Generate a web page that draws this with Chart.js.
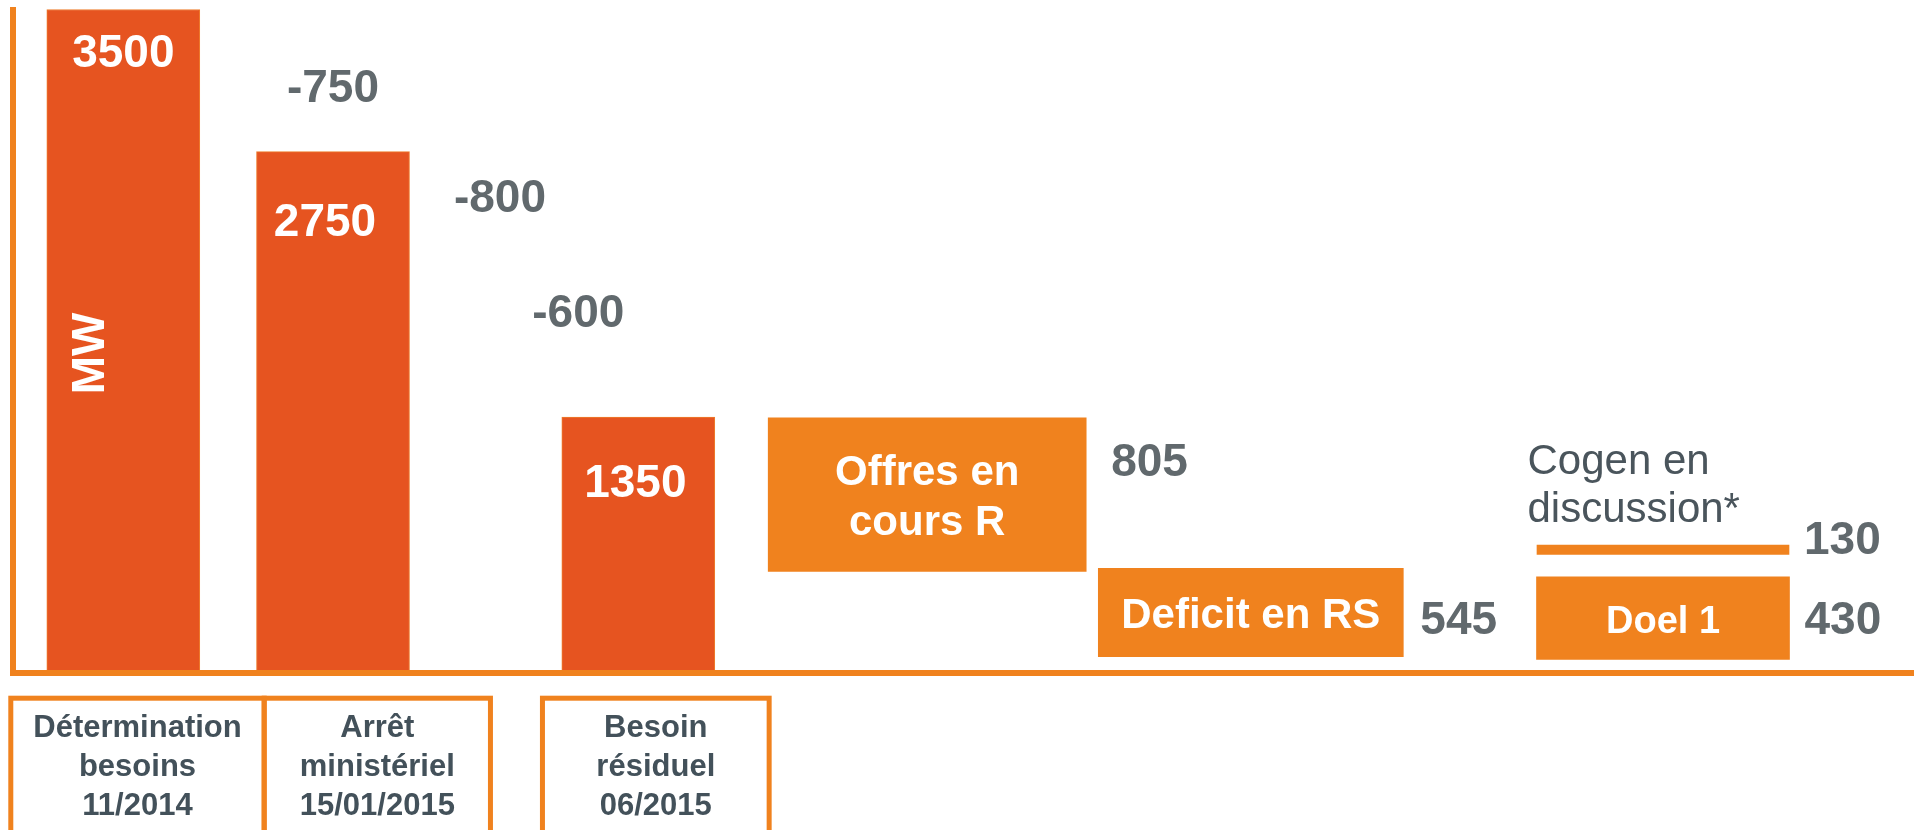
<!DOCTYPE html>
<html>
<head>
<meta charset="utf-8">
<script src="https://cdn.jsdelivr.net/npm/chart.js@4.4.1/dist/chart.umd.min.js"></script>
<style>
  html, body { margin: 0; padding: 0; background: #fff; }
  #cadre { width: 1921px; height: 830px; position: relative; }
</style>
</head>
<body>
<div id="cadre"><canvas id="besoins"></canvas></div>
<script>
// Donnees (MW)
const categories = [['Détermination', 'besoins', '11/2014'], ['Arrêt', 'ministériel', '15/01/2015'], ['Besoin', 'résiduel', '06/2015']];
const totals = [3500, 2750, 1350];
const changes = [-750, -800, -600];
const boxNames = [['Offres en', 'cours R'], ['Deficit en RS'], ['Doel 1'], []];
const boxValues = [805, 545, 430, 130];
const boxLow = [535, 85, 71, 625];
const boxHigh = [1345, 551, 507, 674];
const cogenNote = ['Cogen en', 'discussion*'];
const unit = 'MW';

// Styles
const orange = '#F0821E';
const orangeFonce = '#E65420';
const gris = '#61696D';
const ardoise = '#43515A';
const police = '"Liberation Sans", Arial, sans-serif';

// largeur de chaque colonne (une echelle x par colonne, empilees)
const colonnes = [220.6, 198.8, 411.8, 166, 481.2, 343.2, 78.4];
const colBoites = ['x4', 'x5', 'x6', 'x6'];
const largeurBoites = [318, 305, 253, 252];

//Datasets
const datasets = [];
totals.forEach(function (v, i) {
  datasets.push({
    label: categories[i].join(' '),
    xAxisID: 'x' + (i + 1),
    data: [v],
    backgroundColor: orangeFonce,
    borderColor: '#EE7C2C',
    borderWidth: 1,
    barThickness: 153,
    clip: false
  });
});
boxValues.forEach(function (v, i) {
  datasets.push({
    label: boxNames[i].join(' ') || cogenNote.join(' '),
    xAxisID: colBoites[i],
    data: [[boxLow[i], boxHigh[i]]],
    backgroundColor: orange,
    borderWidth: 0,
    barThickness: largeurBoites[i],
    clip: false
  });
});

//Echelles
const scales = {
  y: {
    min: 0,
    max: 3500,
    ticks: { display: false },
    grid: { display: false, drawTicks: false },
    border: { color: orange, width: 6, z: 1 }
  }
};
colonnes.forEach(function (w, i) {
  scales['x' + (i + 1)] = {
    type: 'category',
    labels: [i < categories.length ? categories[i].join(' ') : ''],
    position: 'bottom',
    stack: 'colonnes',
    stackWeight: w,
    offset: true,
    ticks: { display: false },
    grid: { display: false, drawTicks: false },
    border: { color: orange, width: 6, z: 1 }
  };
});

//Textes
const etiquettes = {
  id: 'etiquettes',
  afterDraw(chart, args, o) {
    const ctx = chart.ctx;
    const zone = chart.chartArea;
    const d = o.decalage;
    const barre = function (i) { return chart.getDatasetMeta(i).data[0]; };
    ctx.save();
    ctx.textAlign = 'center';
    ctx.textBaseline = 'middle';

    // valeurs dans les barres
    ctx.font = 'bold 46px ' + police;
    ctx.fillStyle = '#fff';
    totals.forEach(function (v, i) {
      const b = barre(i);
      ctx.fillText(String(v), b.x + o.totaux[i][0], b.y + o.totaux[i][1] + d);
    });

    // MW
    const b0 = barre(0);
    ctx.save();
    ctx.translate(b0.x + o.unite[0], b0.y + o.unite[1]);
    ctx.rotate(-Math.PI / 2);
    ctx.fillText(unit, 0, 0);
    ctx.restore();

    // variations
    ctx.fillStyle = gris;
    changes.forEach(function (v, i) {
      const a = o.variations[i];
      const b = barre(a[0]);
      ctx.fillText(String(v), b.x + a[1], b.y + a[2] + d);
    });

    // boites de droite
    boxValues.forEach(function (v, i) {
      const b = barre(totals.length + i);
      const milieu = (b.y + b.base) / 2 + d;
      const droite = b.x + b.width / 2;
      const noms = boxNames[i];
      ctx.fillStyle = '#fff';
      ctx.textAlign = 'center';
      ctx.font = 'bold ' + o.tailleNoms[i] + 'px ' + police;
      noms.forEach(function (t, k) {
        ctx.fillText(t, b.x, milieu + (k - (noms.length - 1) / 2) * 50);
      });
      ctx.fillStyle = gris;
      ctx.textAlign = 'left';
      ctx.font = 'bold 46px ' + police;
      ctx.fillText(String(v), droite + o.valeurs[i][0], milieu + o.valeurs[i][1]);
    });

    // note cogen
    const c = barre(totals.length + 3);
    ctx.font = '42px ' + police;
    ctx.fillStyle = '#4A555C';
    ctx.textAlign = 'left';
    ctx.textBaseline = 'alphabetic';
    cogenNote.forEach(function (t, k) {
      ctx.fillText(t, c.x - c.width / 2 + o.note[0], c.y + o.note[1 + k]);
    });

    // cadres des categories
    const f = o.cadres;
    ctx.strokeStyle = orange;
    ctx.lineWidth = 5;
    ctx.textAlign = 'center';
    ctx.fillStyle = ardoise;
    ctx.font = 'bold 31px ' + police;
    categories.forEach(function (lignes, i) {
      const cx = chart.scales['x' + (i + 1)].getPixelForValue(0) + f.dx[i];
      const w = f.largeur[i];
      ctx.strokeRect(cx - w / 2, zone.bottom + f.haut, w, 300);
      lignes.forEach(function (t, k) {
        ctx.fillText(t, cx, zone.bottom + f.ligne1 + k * f.interligne);
      });
    });
    ctx.restore();
  }
};

new Chart(document.getElementById('besoins'), {
  type: 'bar',
  data: { datasets: datasets },
  options: {
    responsive: true,
    maintainAspectRatio: false,
    animation: false,
    grouped: false,
    layout: { padding: { top: 9.5, left: 13, right: 8, bottom: 157.2 } },
    scales: scales,
    plugins: {
      legend: { display: false },
      tooltip: { enabled: false },
      etiquettes: {
        decalage: 4,
        totaux: [[0, 41], [-8, 68], [-3, 63]],
        unite: [-32, 344],
        variations: [[1, 0, -66], [1, 167, 44], [2, -60, -107]],
        tailleNoms: [42, 42, 38, 0],
        valeurs: [[25, -35], [17, 4.5], [15, -0.5], [15, -12.7]],
        note: [-9.5, -71, -23],
        cadres: { dx: [14.2, 44.3, 17.5], largeur: [253.4, 226.3, 226.7], haut: 25.4, ligne1: 64.5, interligne: 39 }
      }
    }
  },
  plugins: [etiquettes]
});
</script>
</body>
</html>
